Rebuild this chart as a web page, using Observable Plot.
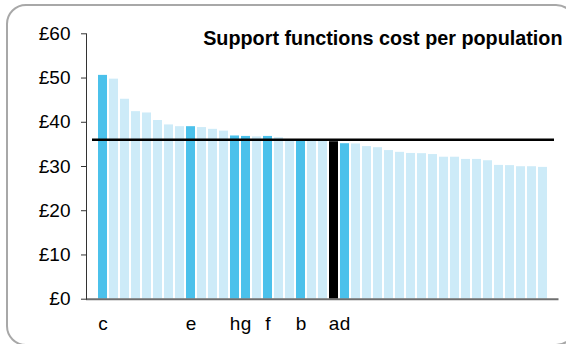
<!DOCTYPE html>
<html>
<head>
<meta charset="utf-8">
<script src="https://cdn.jsdelivr.net/npm/d3@7"></script>
<script src="https://cdn.jsdelivr.net/npm/@observablehq/plot@0.6"></script>
<style>
  html, body { margin: 0; padding: 0; background: #fff; }
  #wrap { position: relative; width: 566px; height: 344px; overflow: hidden; background: #fff; }
  #border { position: absolute; left: 6px; top: 4px; width: 570px; height: 342px; border: 2px solid #a8a8a8; border-radius: 20px; box-sizing: border-box; pointer-events: none; }
  #chart { position: absolute; left: 0; top: 0; }
</style>
</head>
<body>
<div id="wrap"><div id="chart"></div><div id="border"></div></div>
<script>
const title = "Support functions cost per population";
const values = [50.6, 49.75, 45.2, 42.4, 42.1, 40.4, 39.4, 39.0, 39.0, 38.8, 38.4, 38.0,
  36.9, 36.8, 36.7, 36.8, 36.5, 36.1, 36.0, 35.8, 35.7, 35.6, 35.15,
  35.1, 34.5, 34.25, 33.6, 33.2, 32.95, 32.9, 32.7, 32.1, 32.1, 31.6, 31.6, 31.3,
  30.25, 30.2, 29.95, 29.95, 29.8];
const labels = ["c", "", "", "", "", "", "", "", "e", "", "", "",
  "h", "g", "", "f", "", "", "b", "", "", "a", "d",
  "", "", "", "", "", "", "", "", "", "", "", "", "", "", "", "", "", ""];
const subject = "a";
const average = 36.05;
const yTicks = [0, 10, 20, 30, 40, 50, 60];

const data = values.map((v, i) => ({
  id: i,
  value: v,
  label: labels[i],
  group: labels[i] === "" ? "other" : (labels[i] === subject ? "self" : "peer")
}));

const chart = Plot.plot({
  width: 566,
  height: 344,
  marginLeft: 86,
  marginRight: 6,
  marginTop: 33.3,
  marginBottom: 45.3,
  style: { fontFamily: "'Liberation Sans', Arial, sans-serif", fontSize: "19px", color: "#000", background: "transparent" },
  x: { type: "band", domain: data.map(d => d.id), paddingInner: 0.18, paddingOuter: 0.09, axis: null },
  y: { domain: [0, 60], axis: null },
  color: { domain: ["other", "peer", "self"], range: ["#cdebf8", "#4bc1eb", "#000000"] },
  marks: [
    Plot.barY(data, { x: "id", y: "value", fill: "group" }),
    Plot.ruleY([0], { stroke: "#6f6f6f", strokeWidth: 2, insetRight: 1.5 }),
    Plot.frame({ anchor: "left", stroke: "#333" }),
    Plot.axisY({ ticks: yTicks, tickFormat: d => "£" + d, tickSize: 5, tickPadding: 11, fontSize: 19, stroke: "#333", label: null }),
    Plot.ruleY([average], { stroke: "#000", strokeWidth: 2.5, insetLeft: 6, insetRight: 6 }),
    Plot.text(data.filter(d => d.label !== ""), { x: "id", text: "label", frameAnchor: "bottom", lineAnchor: "middle", dy: 24.5, fontSize: 19, fill: "#000" }),
    Plot.text([title], { frameAnchor: "top-right", textAnchor: "end", lineAnchor: "top", dx: 2, dy: -2.5, fontSize: 19.8, fontWeight: "bold", fill: "#000" })
  ]
});
document.getElementById("chart").appendChild(chart);
</script>
</body>
</html>
